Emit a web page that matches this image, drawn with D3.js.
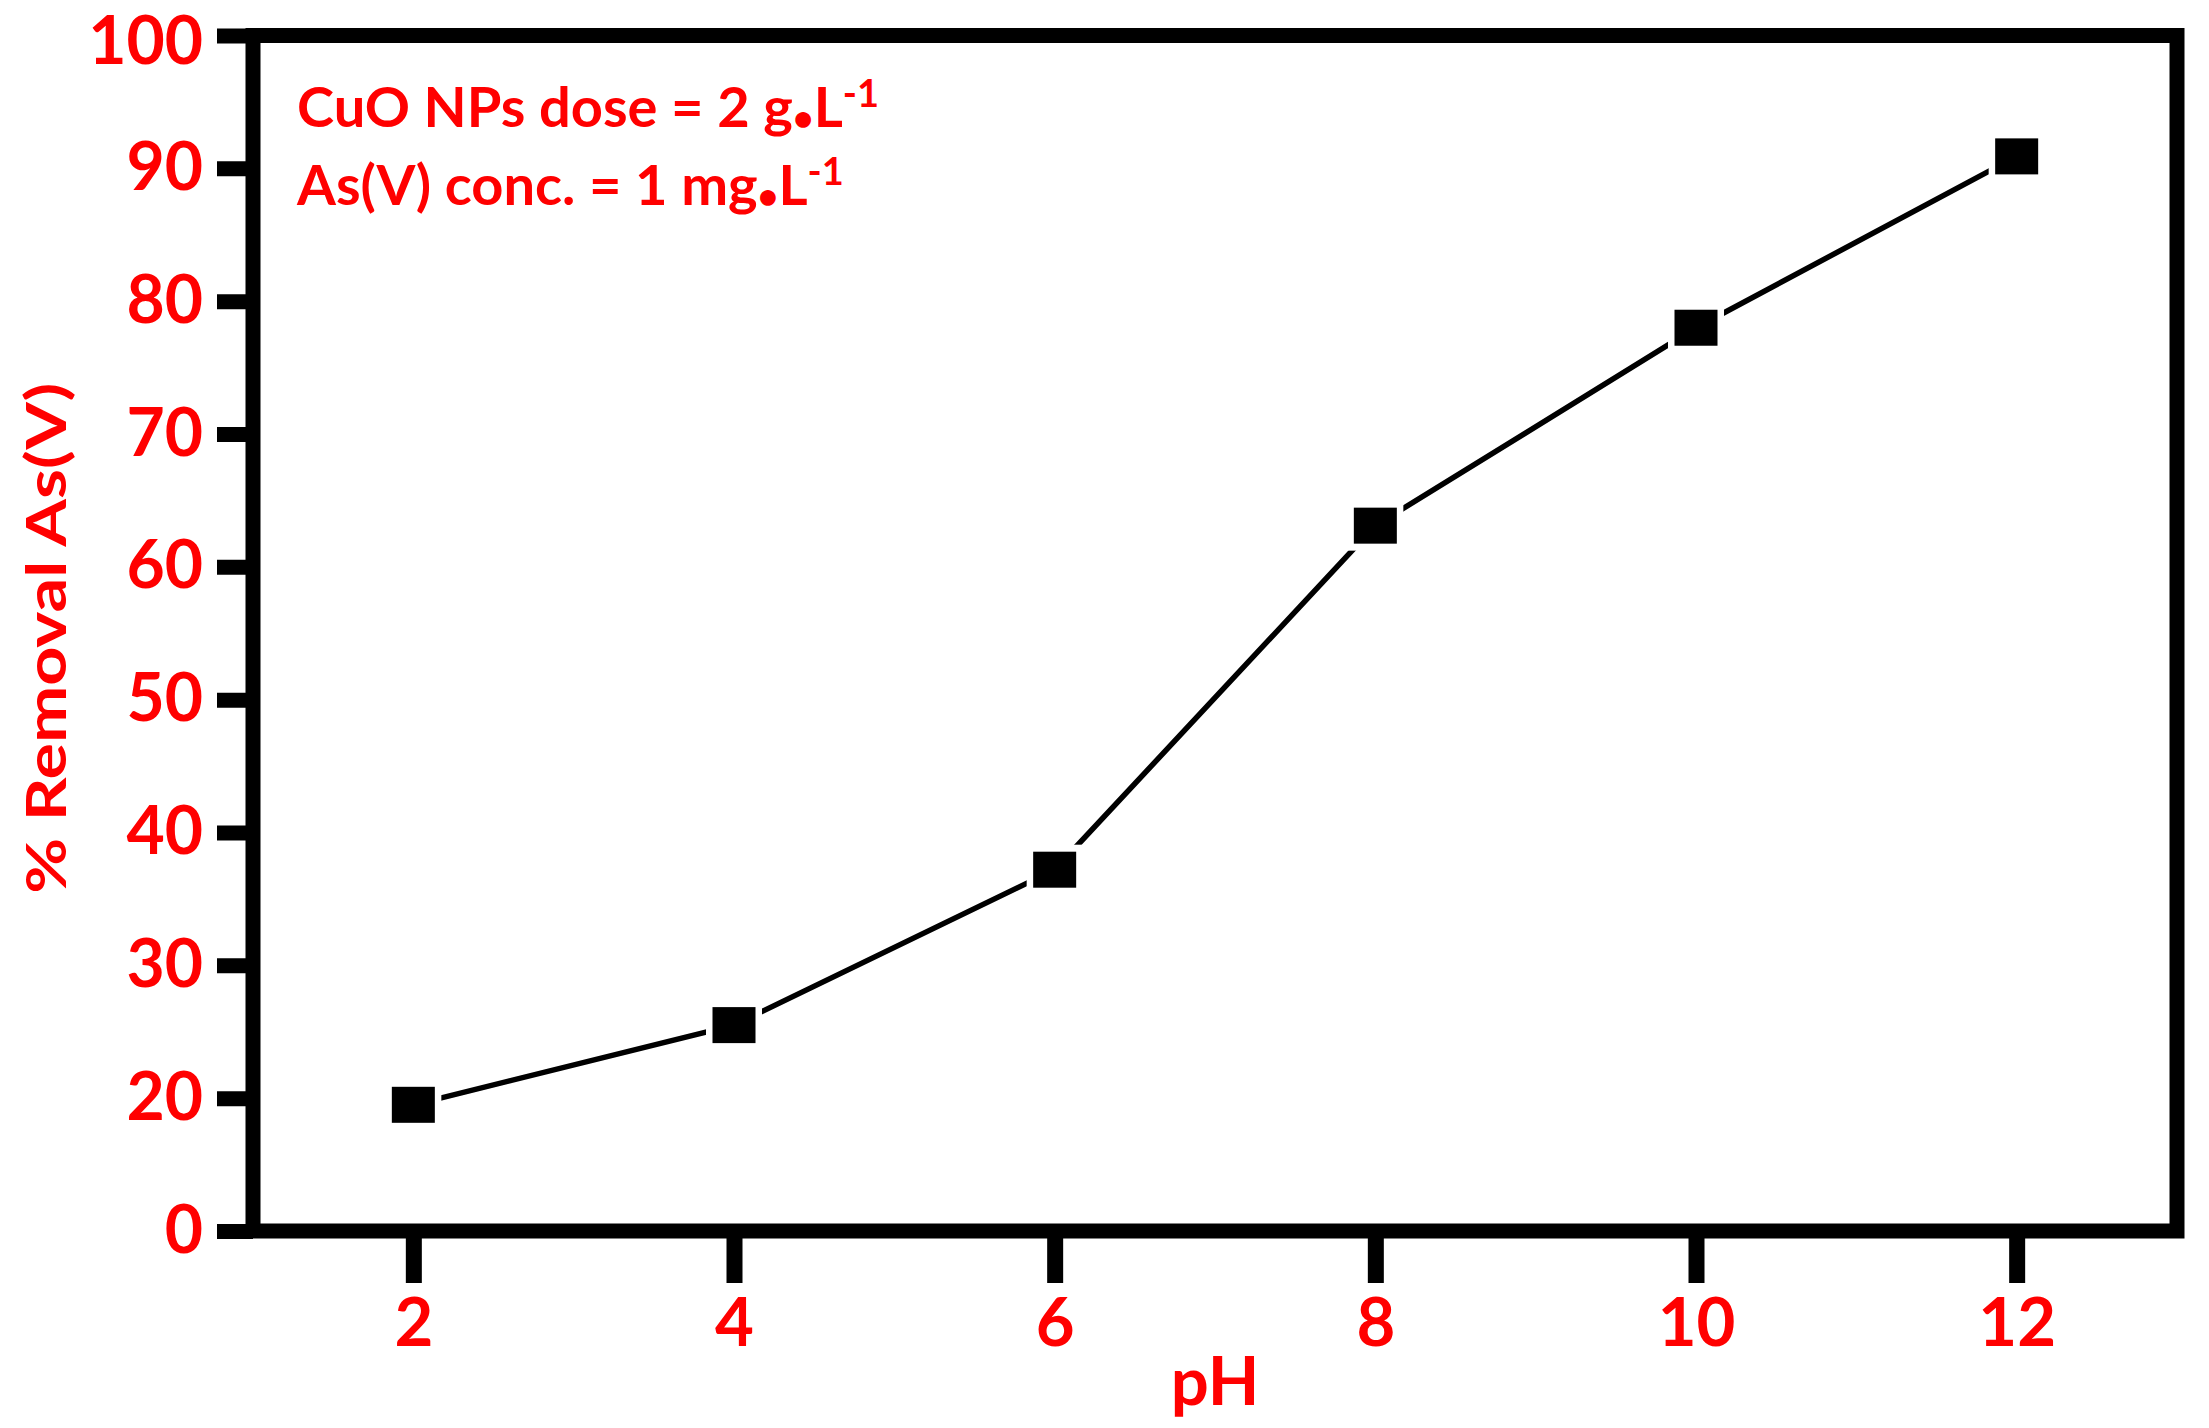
<!DOCTYPE html>
<html>
<head>
<meta charset="utf-8">
<script src="https://cdn.jsdelivr.net/npm/d3@7"></script>
<style>
  body { margin: 0; background: #fff; }
  text { font-family: Lato, "Open Sans", sans-serif; font-weight: bold; fill: #ff0000; }
</style>
</head>
<body>
<svg width="2209" height="1428"></svg>
<script>
// data
var phValues = [2, 4, 6, 8, 10, 12];
var removalValues = [19.0, 25.5, 37.2, 63.1, 78.0, 90.9];
var xTickValues = [2, 4, 6, 8, 10, 12];
var yTickValues = [0, 20, 30, 40, 50, 60, 70, 80, 90, 100];
var noteLines = [
  ["CuO NPs dose = 2 g", "L", "-1"],
  ["As(V) conc. = 1 mg", "L", "-1"]
];

var svg = d3.select("svg");
var margin = {"top": 35.5, "bottom": 197, "left": 253, "right": 32};
var width = +svg.attr("width") - margin.left - margin.right;
var height = +svg.attr("height") - margin.top - margin.bottom;

var x = d3.scaleLinear().domain([1, 13]).range([0, width]);
// axis starts at 0 but the gap 0-20 is drawn shorter, as in the figure
var y = d3.scaleLinear().domain([0, 20, 100]).range([height, height - height * 10 / 90, 0]);

var container = svg.append("g")
    .attr("transform", "translate(" + margin.left + "," + margin.top + ")");

// X axis ticks + labels
var xAxis = container.append("g")
    .attr("class", "x_axis")
    .attr("transform", "translate(0," + height + ")")
    .call(d3.axisBottom(x).tickValues(xTickValues).tickSize(52).tickPadding(15));
xAxis.select(".domain").remove();
xAxis.selectAll("line").attr("stroke", "#000").attr("stroke-width", 16);
xAxis.selectAll("text").attr("fill", "#ff0000").style("font-size", "67px");

// Y axis ticks + labels
var yAxis = container.append("g")
    .attr("class", "y_axis")
    .call(d3.axisLeft(y).tickValues(yTickValues).tickSize(36).tickPadding(14));
yAxis.select(".domain").remove();
yAxis.selectAll("line").attr("stroke", "#000").attr("stroke-width", 15);
yAxis.selectAll("text")
    .attr("fill", "#ff0000")
    .attr("dy", function(d) { return d == 100 ? "0.42em" : "0.32em"; })
    .style("font-size", "66px");

// frame
container.append("rect")
    .attr("x", 0)
    .attr("y", 0)
    .attr("width", width)
    .attr("height", height)
    .attr("fill", "none")
    .attr("stroke", "#000")
    .attr("stroke-width", 15);

var points = phValues.map(function(d, i) { return {ph: d, val: removalValues[i]}; });

var line = d3.line()
    .x(function(d) { return x(d.ph); })
    .y(function(d) { return y(d.val); });

container.append("path")
    .datum(points)
    .attr("fill", "none")
    .attr("stroke", "#000")
    .attr("stroke-width", 5.5)
    .attr("d", line);

// white halo so the line stops short of each marker
container.selectAll(".halo").data(points)
  .enter().append("rect")
    .attr("class", "halo")
    .attr("x", function(d) { return x(d.ph) - 28; })
    .attr("y", function(d) { return y(d.val) - 25; })
    .attr("width", 56)
    .attr("height", 50)
    .attr("fill", "#fff");

container.selectAll(".dot").data(points)
  .enter().append("rect")
    .attr("class", "dot")
    .attr("x", function(d) { return x(d.ph) - 21.5; })
    .attr("y", function(d) { return y(d.val) - 18; })
    .attr("width", 43)
    .attr("height", 36)
    .attr("fill", "#000");

// axis titles
svg.append("text")
    .attr("x", margin.left + width / 2)
    .attr("y", 1405)
    .attr("text-anchor", "middle")
    .style("font-size", "67px")
    .text("pH");

svg.append("text")
    .attr("transform", "translate(66," + (margin.top + height / 2 + 5) + ") rotate(-90)")
    .attr("text-anchor", "middle")
    .attr("textLength", 511)
    .attr("lengthAdjust", "spacingAndGlyphs")
    .style("font-size", "56px")
    .text("% Removal As(V)");

// condition notes
noteLines.forEach(function(n, i) {
  var t = svg.append("text")
      .attr("x", 297)
      .attr("y", 127 + i * 78)
      .style("font-size", "56px");
  t.append("tspan").text(n[0]);
  t.append("tspan").attr("dy", 4).style("font-size", "36px").text("\u2022");
  t.append("tspan").attr("dy", -4).text(n[1]);
  t.append("tspan").attr("dy", -20).style("font-size", "38px").text(n[2]);
});
</script>
</body>
</html>
